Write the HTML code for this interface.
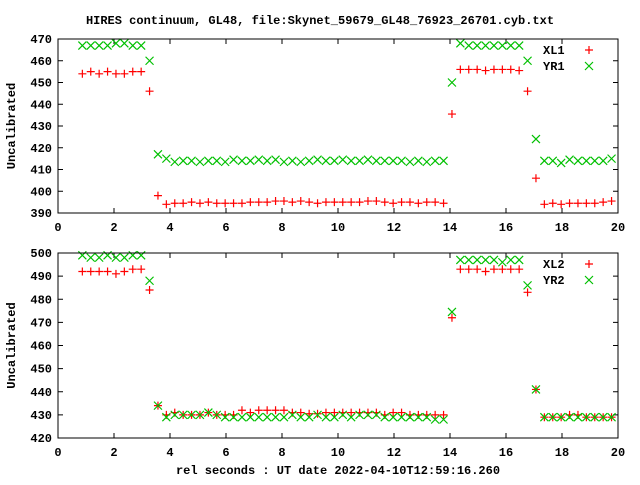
<!DOCTYPE html>
<html><head><meta charset="utf-8"><style>
body{margin:0;background:#fff}
svg text{font-family:"Liberation Mono",monospace;font-weight:bold;font-size:12px;fill:#000}
</style></head><body>
<svg id="chart" width="640" height="480" xmlns="http://www.w3.org/2000/svg">
<rect width="640" height="480" fill="#fff"/>
<text x="320" y="24" text-anchor="middle">HIRES continuum, GL48, file:Skynet_59679_GL48_76923_26701.cyb.txt</text>
<text x="338" y="474" text-anchor="middle">rel seconds : UT date 2022-04-10T12:59:16.260</text>
</svg>
<script>
const xTicks=[0,2,4,6,8,10,12,14,16,18,20];
const yTicks1=[390,400,410,420,430,440,450,460,470];
const yTicks2=[420,430,440,450,460,470,480,490,500];
const t0=0.87, dt=0.3;
const xl1=[454,455,454,455,454,454,455,455,446,398,394,394.5,394.5,395,394.5,395,394.5,394.5,394.5,394.5,395,395,395,395.5,395.5,395,395.5,395,394.5,395,395,395,395,395,395.5,395.5,395,394.5,395,395,394.5,395,395,394.5,435.5,456,456,456,455.5,456,456,456,455.5,446,406,394,394.5,394,394.5,394.5,394.5,394.5,395,395.5];
const yr1=[467,467,467,467,468,468,467,467,460,417,415,413.5,414,414,413.5,414,414,413.5,414.5,414,414,414.5,414,414.5,413.5,414,413.5,414,414.5,414,414,414.5,414,414,414.5,414,414,414,414,413.5,414,413.5,414,414,450,468,467,467,467,467,467,467,467,460,424,414,414,413,414.5,414,414,414,414,415];
const xl2=[492,492,492,492,491,492,493,493,484,434,430,431,430,430,430,431,430,430,430,432,431,432,432,432,432,431,431,430.5,430.5,431,431,431,431,431,431,431,430,431,431,430,430,430,430,430,472,493,493,493,492,493,493,493,493,483,441,429,429,429,430,430,429,429,429,429];
const yr2=[499,498,498,499,498,498,499,499,488,434,429,430,430,430,430,431,430,429,429,429,429,429,429,429,429,430,429,429,430,429,429,430,429,430,430,430,429,429,429,429,429,429,428,428,474.5,497,497,497,497,497,496,497,497,486,441,429,429,429,429,429,429,429,429,429];
const NS="http://www.w3.org/2000/svg";
const svg=document.getElementById('chart');
function el(tag,attrs,parent){const e=document.createElementNS(NS,tag);for(const k in attrs)e.setAttribute(k,attrs[k]);(parent||svg).appendChild(e);return e;}
const X0=58,X1=618;
function xs(v){return X0+(v-0)/(20-0)*(X1-X0);}
function panel(top,bot,ymin,ymax,yTicks,sets,name){
  const g=el('g',{});
  
  
  const ys=v=>bot-(v-ymin)/(ymax-ymin)*(bot-top);
  xTicks.forEach(v=>{
    const x=xs(v);
    el('line',{x1:x,y1:bot,x2:x,y2:bot-5,stroke:'#000'},g);
    el('line',{x1:x,y1:top,x2:x,y2:top+5,stroke:'#000'},g);
    const t=el('text',{x:x,y:bot+18,'text-anchor':'middle'},g);
    
    
    t.textContent=v;
  });
  yTicks.forEach(v=>{
    const y=ys(v);
    el('line',{x1:X0,y1:y,x2:X0+5,y2:y,stroke:'#000'},g);
    el('line',{x1:X1,y1:y,x2:X1-5,y2:y,stroke:'#000'},g);
    const t=el('text',{x:52,y:y+4,'text-anchor':'end'},g);
    
    
    t.textContent=v;
  });
  const yl=el('text',{x:15,y:(top+bot)/2,'text-anchor':'middle',transform:`rotate(-90 15 ${(top+bot)/2})`},g);
  
  
  yl.textContent='Uncalibrated';
  sets.forEach((s,si)=>{
    s.vals.forEach((v,i)=>{
      const x=xs(t0+dt*i), y=ys(v);
      let d=s.mark==='+'?`M${x-4} ${y}H${x+4}M${x} ${y-4}V${y+4}`:`M${x-4} ${y-4}L${x+4} ${y+4}M${x-4} ${y+4}L${x+4} ${y-4}`;
      const p=el('path',{d:d,stroke:s.color,'stroke-width':1.2,fill:'none'},g);
      
      
    });
    const ly=top+11+si*16;
    const lt=el('text',{x:543,y:ly+4},g);
    
    
    lt.textContent=s.label;
    const lx=589;
    let d=s.mark==='+'?`M${lx-4} ${ly}H${lx+4}M${lx} ${ly-4}V${ly+4}`:`M${lx-4} ${ly-4}L${lx+4} ${ly+4}M${lx-4} ${ly+4}L${lx+4} ${ly-4}`;
    el('path',{d:d,stroke:s.color,'stroke-width':1.2,fill:'none'},g);
  });
  el('rect',{x:X0,y:top,width:X1-X0,height:bot-top,fill:'none',stroke:'#000','stroke-width':1},g);
}
panel(39,213,390,470,yTicks1,[{vals:xl1,color:'#ff0000',mark:'+',label:'XL1'},{vals:yr1,color:'#00c000',mark:'x',label:'YR1'}],'top-panel');
panel(253,438,420,500,yTicks2,[{vals:xl2,color:'#ff0000',mark:'+',label:'XL2'},{vals:yr2,color:'#00c000',mark:'x',label:'YR2'}],'bottom-panel');
</script>
</body></html>
